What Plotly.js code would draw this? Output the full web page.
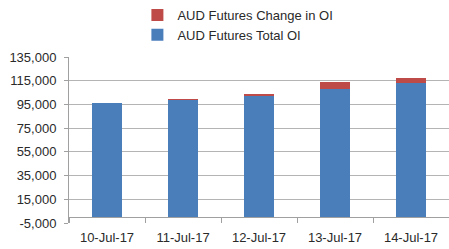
<!DOCTYPE html>
<html>
<head>
<meta charset="utf-8">
<script src="https://cdn.plot.ly/plotly-3.0.1.min.js"></script>
<style>html,body{margin:0;padding:0;background:#fff;}#chart{width:449px;height:249px;}</style>
</head>
<body>
<div id="chart"></div>
<script>
var categories = ["10-Jul-17", "11-Jul-17", "12-Jul-17", "13-Jul-17", "14-Jul-17"];
var totalOI = [96000, 98500, 102200, 108000, 113300];
var changeOI = [0, 700, 1600, 6200, 4400];
var yTickVals = [-5000, 15000, 35000, 55000, 75000, 95000, 115000, 135000];
var yTickText = ["-5,000", "15,000", "35,000", "55,000", "75,000", "95,000", "115,000", "135,000"];

var fontFam = "Liberation Sans, Arial, sans-serif";
var traces = [
  {type: "bar", name: "AUD Futures Total OI", x: categories, y: totalOI,
   marker: {color: "#4A7EBB"}, width: 0.4, legendgroup: "a"},
  {type: "bar", name: "AUD Futures Change in OI", x: categories, y: changeOI,
   marker: {color: "#BE4B48"}, width: 0.4, legendgroup: "b"}
];
var layout = {
  width: 449, height: 249,
  margin: {l: 69, r: 0, t: 56, b: 26},
  paper_bgcolor: "#fff", plot_bgcolor: "#fff",
  barmode: "stack",
  font: {family: fontFam, size: 13, color: "#2a2a2a"},
  showlegend: true,
  legend: {x: 0.18, xanchor: "left", y: 1.34, yanchor: "top",
           traceorder: "reversed", tracegroupgap: 4,
           font: {family: fontFam, size: 13, color: "#2a2a2a"}, bgcolor: "rgba(0,0,0,0)"},
  xaxis: {type: "category", anchor: "free", position: 5000/140000,
          showline: true, linecolor: "#a0a0a0", linewidth: 1,
          ticks: "outside", tickson: "boundaries", ticklen: 5, tickcolor: "#a0a0a0",
          ticklabelstandoff: 8, showgrid: false, zeroline: false,
          tickfont: {family: fontFam, size: 13, color: "#2a2a2a"}},
  yaxis: {range: [-5000, 135000], tickvals: yTickVals, ticktext: yTickText,
          showgrid: true, gridcolor: "#b4b4b4", gridwidth: 1,
          showline: true, linecolor: "#a0a0a0", linewidth: 1,
          ticks: "outside", ticklen: 4, tickcolor: "#a0a0a0",
          ticklabelstandoff: 5, zeroline: false,
          tickfont: {family: fontFam, size: 13, color: "#2a2a2a"}}
};
Plotly.newPlot("chart", traces, layout, {staticPlot: true, displayModeBar: false});
</script>
</body>
</html>
